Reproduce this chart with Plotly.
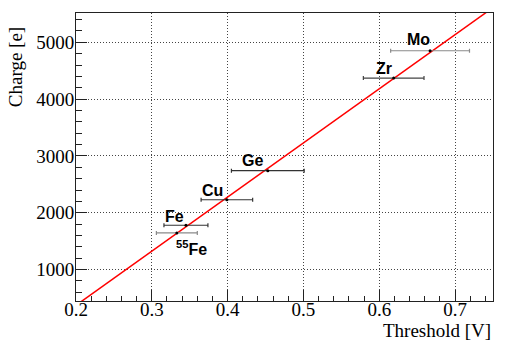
import plotly.graph_objects as go

# ---- data ----
labels = ["<sup>55</sup>Fe", "Fe", "Cu", "Ge", "Zr", "Mo"]
threshold = [0.333, 0.345, 0.399, 0.453, 0.619, 0.667]
threshold_err = [0.027, 0.029, 0.034, 0.048, 0.040, 0.052]
charge = [1645, 1780, 2229, 2741, 4370, 4852]
bar_colors = ["#8a8a8a", "#333333", "#333333", "#333333", "#444444", "#8a8a8a"]
# label offsets from the point, in pixels
label_dx = [15, -11, -14, -15, -10, -12]
label_dy = [-15, 9, 9, 10, 10, 11]

fit_slope = 9527.0      # e / V
fit_intercept = -1534.0  # e
fit_x = [0.2, 0.75]
fit_y = [fit_slope * x + fit_intercept for x in fit_x]

x_range = [0.2, 0.75]
y_range = [447, 5516]

fig = go.Figure()

fig.add_trace(go.Scatter(x=fit_x, y=fit_y, mode="lines",
                         line=dict(color="#ff0000", width=1.5),
                         showlegend=False, hoverinfo="skip"))

for i in range(len(labels)):
    fig.add_trace(go.Scatter(
        x=[threshold[i]], y=[charge[i]], mode="markers",
        marker=dict(color="black", size=3),
        error_x=dict(type="data", array=[threshold_err[i]], color=bar_colors[i],
                     thickness=1.2, width=2),
        showlegend=False))
    fig.add_annotation(x=threshold[i], y=charge[i], text="<b>%s</b>" % labels[i],
                       showarrow=False, xshift=label_dx[i], yshift=label_dy[i],
                       font=dict(family="Liberation Sans", size=16, color="black"))

serif = "Liberation Serif"
axis_common = dict(showline=True, linecolor="#222222", linewidth=1, mirror=True,
                   ticks="inside", ticklen=11, tickcolor="#222222", tickwidth=1,
                   showgrid=True, gridcolor="#444444", gridwidth=1, griddash="1px,2px",
                   zeroline=False, automargin=False)

fig.update_xaxes(range=x_range, dtick=0.1, tick0=0.2, tickformat=".1f",
                 ticklabelstandoff=-9,
                 minor=dict(ticks="inside", ticklen=5, dtick=0.02, tickcolor="#222222",
                            showgrid=False),
                 **axis_common)
fig.update_yaxes(range=y_range, dtick=1000, tick0=0, ticklabelstandoff=-3,
                 minor=dict(ticks="inside", ticklen=6, dtick=200, tickcolor="#222222",
                            showgrid=False),
                 **axis_common)
fig.update_xaxes(tickfont_family=serif, tickfont_size=19, tickfont_color="black")
fig.update_yaxes(tickfont_family=serif, tickfont_size=19, tickfont_color="black")

fig.add_annotation(xref="paper", yref="paper", x=1.0, y=-0.102, xanchor="right",
                   yanchor="middle", text="Threshold [V]", showarrow=False,
                   font=dict(family=serif, size=19, color="black"))
fig.add_annotation(xref="paper", yref="paper", x=-0.146, y=0.958, xanchor="center",
                   yanchor="top", textangle=-90, text="Charge [e]", showarrow=False,
                   font=dict(family=serif, size=19, color="black"))

fig.update_layout(width=508, height=346, margin=dict(l=76, r=15, t=13, b=45),
                  font=dict(family=serif, size=19, color="black"),
                  plot_bgcolor="white", paper_bgcolor="white")

fig.write_html("out.html", config={"displayModeBar": False},
               post_script="document.body.style.margin='0px';")
